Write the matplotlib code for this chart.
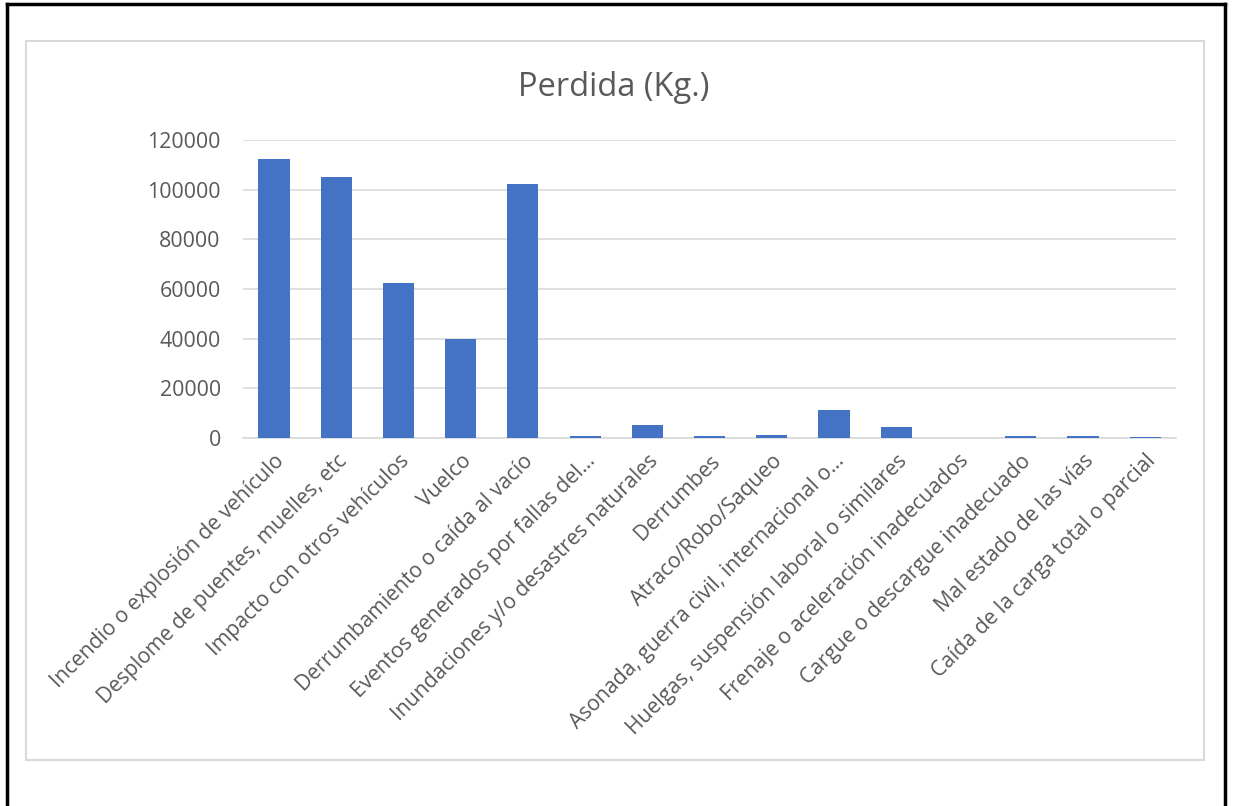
import numpy as np
import matplotlib.pyplot as plt
from matplotlib.patches import Rectangle
from matplotlib.lines import Line2D

plt.rcParams['font.family'] = ['Open Sans', 'DejaVu Sans']

categorias = [
    "Incendio o explosión de vehículo",
    "Desplome de puentes, muelles, etc",
    "Impacto con otros vehículos",
    "Vuelco",
    "Derrumbamiento o caída al vacío",
    "Eventos generados por fallas del…",
    "Inundaciones y/o desastres naturales",
    "Derrumbes",
    "Atraco/Robo/Saqueo",
    "Asonada, guerra civil, internacional o…",
    "Huelgas, suspensión laboral o similares",
    "Frenaje o aceleración inadecuados",
    "Cargue o descargue inadecuado",
    "Mal estado de las vías",
    "Caída de la carga total o parcial",
]
perdida = [112400, 105100, 62400, 39900, 102300, 800, 5200, 800, 1200,
           11300, 4400, 0, 700, 600, 300]
yticks = [0, 20000, 40000, 60000, 80000, 100000, 120000]

gris = "#595959"

fig = plt.figure(figsize=(12.33, 8.06), dpi=100)
fig.patch.set_facecolor("white")

# marco gris del area del grafico
fig.add_artist(Rectangle((0.021, 0.057), 0.9555, 0.892, transform=fig.transFigure,
                         fill=False, edgecolor="#d9d9d9", linewidth=1.5))
# borde negro exterior
for xs, ys in [([0.0055, 0.0055], [0.0, 0.9945]),
               ([0.0055, 0.9935], [0.9945, 0.9945]),
               ([0.9935, 0.9935], [0.0, 0.9945])]:
    fig.add_artist(Line2D(xs, ys, transform=fig.transFigure, color="black", linewidth=2.5))

ax = fig.add_axes([0.197, 0.4566, 0.757, 0.3694])
x = np.arange(len(categorias))
ax.bar(x, perdida, width=0.5, color="#4472c4", zorder=3)

ax.set_xlim(-0.5, len(categorias) - 0.5)
ax.set_ylim(0, 120000)
ax.set_yticks(yticks)
ax.set_yticklabels([str(v) for v in yticks], fontsize=15.4, color=gris)
ax.set_xticks(x)
ax.set_xticklabels(categorias, rotation=45, ha="right", rotation_mode="anchor",
                   fontsize=15.2, color=gris)
ax.tick_params(axis="both", length=0)
ax.tick_params(axis="y", pad=16)
ax.tick_params(axis="x", pad=9)
ax.grid(axis="y", color="#d9d9d9", linewidth=1.2, zorder=0)
for s in ["top", "right", "left"]:
    ax.spines[s].set_visible(False)
ax.spines["bottom"].set_color("#d9d9d9")
ax.spines["bottom"].set_linewidth(1.2)

fig.text(0.498, 0.891, "Perdida (Kg.)", ha="center", va="center", fontsize=23.5, color=gris)

fig.savefig("out.png", dpi=100)
